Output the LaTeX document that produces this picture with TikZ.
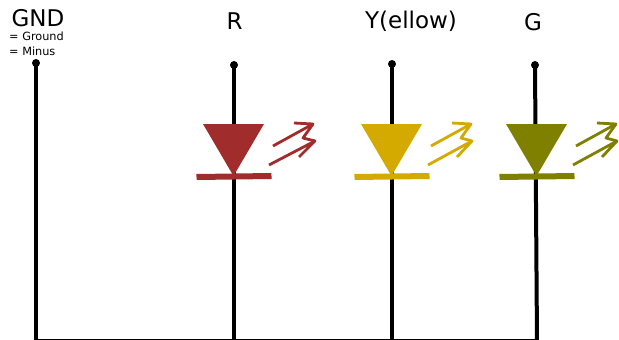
\documentclass[tikz,border=0pt]{standalone}
\usepackage{fontspec}
\setmainfont{DejaVu Sans}
\usepackage{color}
\definecolor{ledred}{HTML}{A02C2C}
\definecolor{ledyellow}{HTML}{D4AA00}
\definecolor{ledgreen}{HTML}{808000}
\tikzset{
    pin/.style={circle, fill=black, inner sep=0pt, minimum size=8pt},
    wire/.style={line width=4pt, color=black},
    cathode/.style={line width=6pt},
    ray/.style={line width=2.8pt, line join=round},
    biglabel/.style={font=\fontsize{23}{25}\selectfont, inner sep=0pt},
    smalllabel/.style={font=\fontsize{11.3}{15}\selectfont, inner sep=0pt, align=left}
}
\begin{document}
\begin{tikzpicture}[x=1pt, y=-1pt]
    \useasboundingbox (0, 0) rectangle (619, 340);
    % labels
    \node[biglabel] (gndlabel) at (38, 18.5) {GND};
    \node[smalllabel, anchor=north west] (gndnote) at (9, 32) {= Ground\\= Minus};
    \node[biglabel] (rlabel) at (234.5, 21) {R};
    \node[biglabel] (ylabel) at (411, 21) {Y(ellow)};
    \node[biglabel] (glabel) at (533, 22) {G};
    % pins and ground rail
    \node[pin] (pingnd) at (36, 63) {};
    \node[pin] (pinr) at (234, 65) {};
    \node[pin] (piny) at (392, 64) {};
    \node[pin] (ping) at (535, 65) {};
    \coordinate (footgnd) at (36, 341);
    \coordinate (footr) at (234, 341);
    \coordinate (footy) at (392, 341);
    \coordinate (footg) at (537, 341);
    \draw[wire] (pingnd.center) -- (footgnd);
    \draw[wire] (pinr.center) -- (footr);
    \draw[wire] (piny.center) -- (footy);
    \draw[wire] (ping.center) -- (footg);
    \draw[wire] (34, 341) -- (footg);
    % red
    \fill[ledred] (203, 124) -- (264, 124) -- (233.5, 176) -- cycle;
    \draw[cathode, ledred] (196.5, 177) -- (271.5, 176);
    \draw[ray, ledred] (273, 146) -- (313, 124) -- (294, 123);
    \draw[ray, ledred] (313, 124) -- (303, 138) -- (315, 141);
    \draw[ray, ledred] (269, 165) -- (315, 141) -- (299, 157);
    % yellow
    \fill[ledyellow] (361, 124) -- (422, 124) -- (391.5, 176) -- cycle;
    \draw[cathode, ledyellow] (354.5, 177) -- (429.5, 176);
    \draw[ray, ledyellow] (431, 146) -- (471, 124) -- (452, 123);
    \draw[ray, ledyellow] (471, 124) -- (461, 138) -- (472, 141);
    \draw[ray, ledyellow] (428, 165) -- (472, 141) -- (457, 157);
    % green
    \fill[ledgreen] (506, 124) -- (567, 124) -- (536.5, 176) -- cycle;
    \draw[cathode, ledgreen] (499.5, 177) -- (574.5, 176);
    \draw[ray, ledgreen] (576, 146) -- (616, 124) -- (597, 123);
    \draw[ray, ledgreen] (616, 124) -- (606, 138) -- (617, 141);
    \draw[ray, ledgreen] (573, 165) -- (617, 141) -- (602, 157);
\end{tikzpicture}
\end{document}
